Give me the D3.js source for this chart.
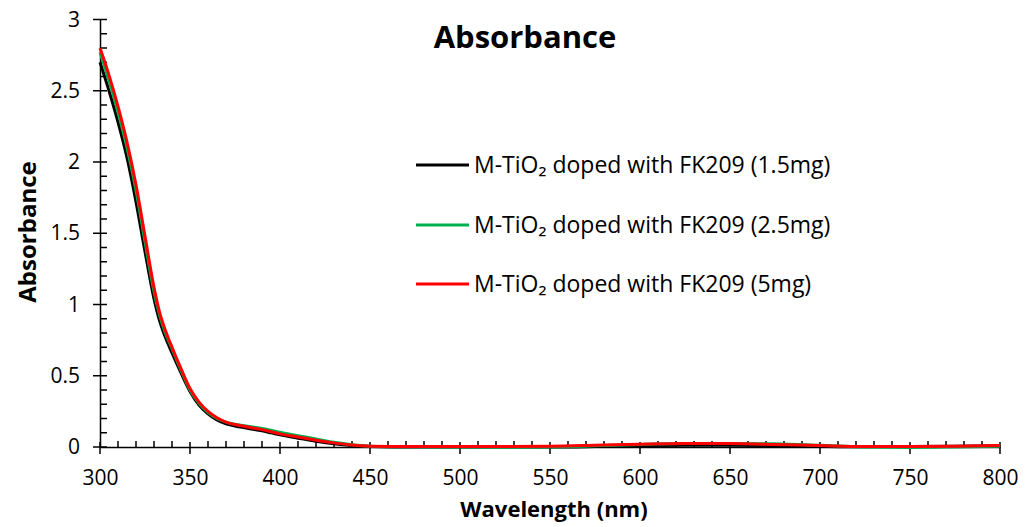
<!DOCTYPE html>
<html>
<head>
<meta charset="utf-8">
<script src="https://cdn.jsdelivr.net/npm/d3@7"></script>
<style>
  html, body { margin: 0; padding: 0; background: #fff; }
  svg text { font-family: "Open Sans", "Noto Sans", "DejaVu Sans", sans-serif; fill: #000; }
</style>
</head>
<body>
<svg id="chart" width="1032" height="527"></svg>
<script>
// ---- data ----
const wavelengths = [300,305,310,315,320,325,330,333,336,340,345,350,355,360,365,370,375,380,385,390,395,400,410,420,430,440,450,475,500,525,550,575,600,625,650,675,700,725,750,775,800];
const black15 = [2.70,2.50,2.28,2.03,1.72,1.37,1.04,0.89,0.78,0.66,0.52,0.39,0.295,0.233,0.19,0.163,0.148,0.136,0.125,0.113,0.099,0.085,0.062,0.04,0.022,0.01,0.004,0.0,0.0,0.0,0.0,0.003,0.008,0.012,0.012,0.01,0.005,0.002,0.003,0.005,0.008];
const green25 = [2.77,2.57,2.35,2.10,1.80,1.44,1.09,0.93,0.81,0.69,0.54,0.40,0.307,0.243,0.20,0.175,0.16,0.15,0.14,0.13,0.117,0.103,0.08,0.056,0.033,0.016,0.006,0.002,0.0,-0.002,0.0,0.008,0.018,0.024,0.025,0.022,0.012,0.0,-0.003,0.0,0.005];
const red5 = [2.80,2.61,2.39,2.14,1.84,1.48,1.12,0.95,0.83,0.70,0.55,0.41,0.315,0.25,0.205,0.175,0.158,0.145,0.134,0.122,0.107,0.092,0.07,0.048,0.029,0.014,0.006,0.003,0.003,0.003,0.005,0.012,0.02,0.025,0.024,0.018,0.01,0.003,0.004,0.006,0.01];
const seriesNames = ["M-TiO\u2082 doped with FK209 (1.5mg)", "M-TiO\u2082 doped with FK209 (2.5mg)", "M-TiO\u2082 doped with FK209 (5mg)"];
const seriesColors = ["#000000", "#00b050", "#ff0000"];
const xTicks = [300,350,400,450,500,550,600,650,700,750,800];
const yTicks = [0,0.5,1,1.5,2,2.5,3];
const title = "Absorbance";
const xTitle = "Wavelength (nm)";
const yTitle = "Absorbance";

const seriesValues = [black15, green25, red5];

// ---- layout ----
const svg = d3.select("#chart");
const x = d3.scaleLinear().domain([300, 800]).range([100, 1000]);
const y = d3.scaleLinear().domain([0, 3]).range([447, 19.5]);

// minor ticks
const xMinor = d3.range(300, 801, 10).filter(v => v % 50 !== 0);
const yMinor = d3.range(0, 31, 1).map(v => v / 10).filter(v => Math.round(v * 10) % 5 !== 0);

const g = svg.append("g");

// x axis
const xAxis = g.append("g").attr("transform", `translate(0,${y(0)})`);
xAxis.call(d3.axisBottom(x).tickValues(xTicks).tickSize(0).tickPadding(23).tickFormat(d3.format("d")));
xAxis.select(".domain").attr("stroke", "#000").attr("stroke-width", 1.5);
xAxis.selectAll(".tick text").attr("font-size", "21px");
xAxis.selectAll(".major").data(xTicks).enter().append("line")
  .attr("x1", d => x(d)).attr("x2", d => x(d)).attr("y1", -5).attr("y2", 7)
  .attr("stroke", "#000").attr("stroke-width", 1.5);
xAxis.selectAll(".minor").data(xMinor).enter().append("line")
  .attr("x1", d => x(d)).attr("x2", d => x(d)).attr("y1", -6).attr("y2", 0)
  .attr("stroke", "#000").attr("stroke-width", 1.5);

// y axis
const yAxis = g.append("g").attr("transform", `translate(${x(300)},0)`);
yAxis.call(d3.axisLeft(y).tickValues(yTicks).tickSize(0).tickPadding(20).tickFormat(d => String(d)));
yAxis.select(".domain").attr("stroke", "#000").attr("stroke-width", 1.5);
yAxis.selectAll(".tick text").attr("font-size", "21px");
yAxis.selectAll(".major").data(yTicks).enter().append("line")
  .attr("x1", -7).attr("x2", 7).attr("y1", d => y(d)).attr("y2", d => y(d))
  .attr("stroke", "#000").attr("stroke-width", 1.5);
yAxis.selectAll(".minor").data(yMinor).enter().append("line")
  .attr("x1", 0).attr("x2", 7).attr("y1", d => y(d)).attr("y2", d => y(d))
  .attr("stroke", "#000").attr("stroke-width", 1.5);

// lines
const line = d3.line().x((d, i) => x(wavelengths[i])).y(d => y(d)).curve(d3.curveMonotoneX);
seriesValues.forEach((vals, k) => {
  g.append("path").datum(vals)
    .attr("fill", "none").attr("stroke", seriesColors[k]).attr("stroke-width", 3)
    .attr("stroke-linejoin", "round")
    .attr("d", line);
});

// title
svg.append("text").attr("x", 525).attr("y", 48).attr("text-anchor", "middle")
  .attr("font-size", "31px").attr("font-weight", "bold").text(title);

// axis titles
svg.append("text").attr("x", 554).attr("y", 517).attr("text-anchor", "middle")
  .attr("font-size", "22px").attr("font-weight", "bold").text(xTitle);
svg.append("text").attr("transform", "translate(36,232) rotate(-90)").attr("text-anchor", "middle")
  .attr("font-size", "24px").attr("font-weight", "bold").text(yTitle);

// legend
const legendY = [165, 225, 284];
const leg = svg.append("g");
seriesNames.forEach((name, k) => {
  leg.append("line").attr("x1", 416).attr("x2", 469).attr("y1", legendY[k]).attr("y2", legendY[k])
    .attr("stroke", seriesColors[k]).attr("stroke-width", 3);
  leg.append("text").attr("x", 474).attr("y", legendY[k] + 8).attr("font-size", "23px").text(name);
});
</script>
</body>
</html>
